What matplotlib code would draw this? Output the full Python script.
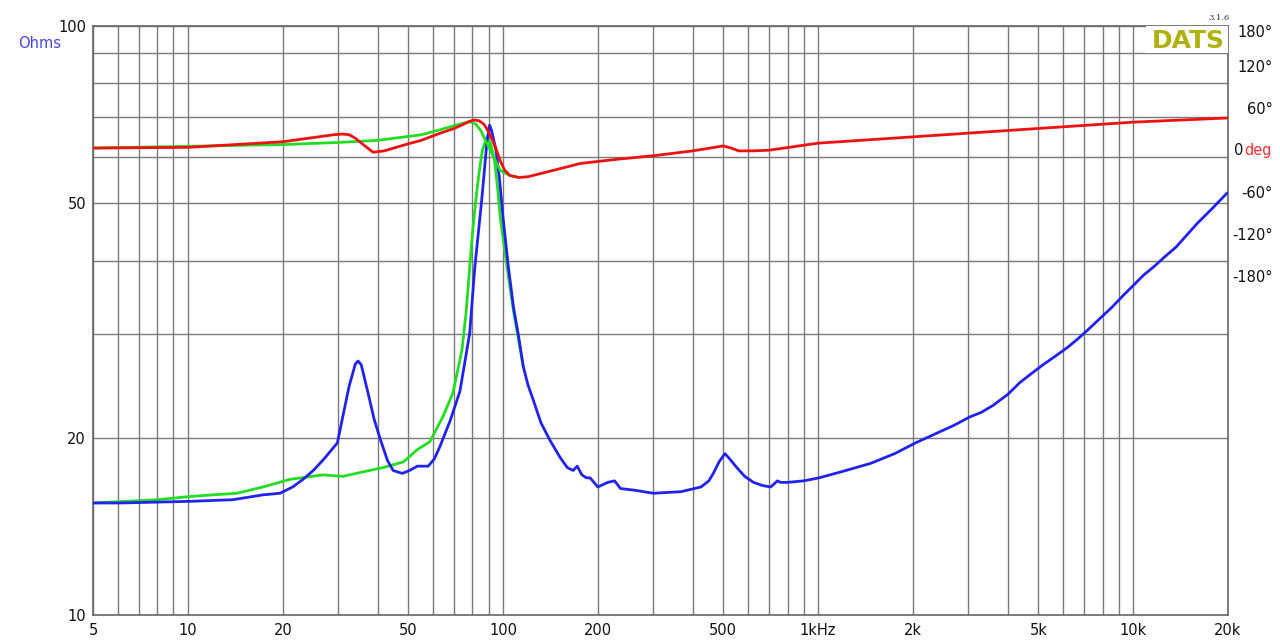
import numpy as np
import matplotlib
matplotlib.use("Agg")
from matplotlib import pyplot as plt
from matplotlib.ticker import FixedLocator, NullFormatter, LogLocator
import matplotlib.transforms as mtransforms

# impedance, blue trace (Hz, ohms)
blue_f = [5, 6.1, 10.2, 13.9, 17.3, 19.6, 21.5, 23.2, 25, 27, 29.8, 31, 32.5, 34, 34.7,
          35.5, 36.5, 37.6, 39, 40.9, 43, 44.8, 47.9, 50.5, 53.5, 57.9, 60.5, 63, 68, 73,
          78.4, 81.4, 85.6, 89, 90.7, 92, 93.5, 95, 97.5, 100, 104, 108, 112, 116, 120,
          124.7, 132, 141, 152, 160, 167, 172, 178, 184, 189, 200, 215, 226, 236, 260,
          300, 367, 425, 450, 465, 485, 506, 525, 552, 585, 624, 665, 707, 743, 760, 800,
          900, 1007, 1180, 1470, 1750, 2036, 2350, 2700, 3030, 3300, 3590, 4000, 4360,
          4750, 5170, 5650, 6200, 6700, 7180, 7800, 8550, 9300, 10170, 10800, 11600,
          12600, 13700, 14800, 16000, 17800, 19800]
blue_z = [15.5, 15.5, 15.6, 15.7, 16.0, 16.1, 16.5, 17.0, 17.6, 18.4, 19.6, 21.7, 24.5,
          26.7, 27.0, 26.6, 25.0, 23.4, 21.5, 19.8, 18.3, 17.6, 17.4, 17.6, 17.9, 17.9,
          18.4, 19.3, 21.4, 24.0, 30.1, 39.0, 50.7, 64.0, 67.9, 66.5, 64.0, 61.6, 55.0,
          47.4, 39.0, 33.3, 29.8, 26.4, 24.6, 23.2, 21.2, 19.8, 18.5, 17.8, 17.6, 17.9,
          17.3, 17.1, 17.1, 16.5, 16.8, 16.9, 16.4, 16.3, 16.1, 16.2, 16.5, 16.9, 17.4,
          18.2, 18.8, 18.4, 17.8, 17.2, 16.8, 16.6, 16.5, 16.9, 16.8, 16.8, 16.9, 17.1,
          17.5, 18.1, 18.8, 19.6, 20.3, 21.0, 21.7, 22.1, 22.7, 23.7, 24.8, 25.7, 26.6,
          27.5, 28.5, 29.5, 30.5, 31.8, 33.3, 34.9, 36.6, 37.8, 39.0, 40.6, 42.2, 44.2,
          46.3, 49.0, 52.0]

# impedance, green trace
green_f = [5, 8.0, 10.2, 12.0, 14.3, 17.3, 21.1, 26.8, 31, 35.9, 41.6, 48.3, 53.5, 58.6,
           64.4, 69.3, 74.1, 76.5, 78.4, 80, 82, 84, 86, 89, 91.5, 94, 96, 98, 103, 108,
           116]
green_z = [15.5, 15.7, 15.9, 16.0, 16.1, 16.5, 17.0, 17.3, 17.2, 17.5, 17.8, 18.2, 19.1,
           19.7, 21.7, 23.8, 28.2, 33.0, 39.0, 44.5, 50.7, 56.5, 61.6, 64.8, 63.0, 59.2,
           53.5, 47.4, 39.0, 32.8, 26.4]

# phase, red trace (deg)
red_f = [5, 10, 20, 25, 29, 31, 32.5, 34, 36, 38.7, 42, 45, 50, 55, 63, 70, 75, 78, 81,
         84, 87, 89, 92, 95, 98, 101, 105, 112, 120, 130, 150, 176, 230, 300, 400, 500,
         530, 560, 620, 700, 1000, 2000, 5000, 10000, 20000]
red_p = [3, 4, 12, 18, 22, 23, 22, 17, 8, -3, -1, 3, 9, 14, 24, 31, 37, 41, 43, 42, 37,
         30, 17, 2, -15, -28, -36, -39, -38, -34, -27, -19, -13, -8, -1, 6, 3, -1, -1, 0,
         10, 19, 31, 40, 46]

# phase, green trace
greenp_f = [5, 20, 30, 40, 55, 63, 70, 74, 77, 79.5, 82, 85, 88, 93, 98, 105, 112]
greenp_p = [3, 8, 11, 14, 22, 29, 35, 38, 40, 40, 37, 28, 14, -8, -29, -36, -39]

xticks = [5, 10, 20, 50, 100, 200, 500, 1000, 2000, 5000, 10000, 20000]
xlabels = ["5", "10", "20", "50", "100", "200", "500", "1kHz", "2k", "5k", "10k", "20k"]
yticks = [10, 20, 50, 100]
phase_ticks = [170, 120, 60, 0, -60, -120, -180]
phase_labels = ["180°", "120°", "60°", "", "-60°", "-120°", "-180°"]

fig = plt.figure(figsize=(12.8, 6.4), dpi=100)
ax = fig.add_axes([0.0727, 0.039, 0.8867, 0.920])
ax.set_xscale("log")
ax.set_yscale("log")
ax.set_xlim(5, 20000)
ax.set_ylim(10, 100)

grid_col = "#7a7a7a"
ax.xaxis.set_minor_locator(LogLocator(base=10, subs=np.arange(2, 10)))
ax.yaxis.set_minor_locator(FixedLocator([20, 30, 40, 60, 70, 80, 90]))
ax.grid(True, which="both", color=grid_col, linewidth=1.0)
ax.set_xticks(xticks)
ax.set_xticklabels(xlabels)
ax.set_yticks(yticks)
ax.set_yticklabels([str(v) for v in yticks])
ax.xaxis.set_minor_formatter(NullFormatter())
ax.yaxis.set_minor_formatter(NullFormatter())
ax.tick_params(which="both", length=0, labelsize=10.5, colors="#111111")
ax.tick_params(axis="x", pad=6)
ax.tick_params(axis="y", pad=5)
for s in ax.spines.values():
    s.set_color("#666666")
    s.set_linewidth(1.2)

ax2 = ax.twinx()
ax2.set_ylim(-664, 177)
ax2.set_yticks(phase_ticks)
ax2.set_yticklabels(phase_labels)
ax2.tick_params(length=0, labelsize=10.5, pad=32, colors="#111111")
for lab in ax2.get_yticklabels():
    lab.set_horizontalalignment("right")
ax2.spines[:].set_visible(False)

ax.plot(green_f, green_z, color="#22dd22", lw=2, zorder=3)
ax2.plot(greenp_f, greenp_p, color="#22dd22", lw=2, zorder=3)
ax.plot(blue_f, blue_z, color="#2222ee", lw=2, zorder=4)
ax2.plot(red_f, red_p, color="#ee1111", lw=2, zorder=5)

# "0 deg" label
tr = mtransforms.blended_transform_factory(ax2.transAxes, ax2.transData)
ax2.text(1.0132, 0, "0", transform=tr, ha="right", va="center", fontsize=10.5, color="#111111")
ax2.text(1.0385, 0, "deg", transform=tr, ha="right", va="center", fontsize=10.5, color="#ee3333")

fig.text(0.014, 0.932, "Ohms", color="#4444ee", fontsize=10.5, ha="left", va="center")

# DATS logo
ax.add_patch(plt.Rectangle((0.928, 0.955), 0.072, 0.045, transform=ax.transAxes,
                           facecolor="white", edgecolor="none", zorder=6))
ax.text(0.997, 0.9745, "DATS", transform=ax.transAxes, ha="right", va="center",
        fontsize=18, fontweight="bold", color="#b0b010", zorder=7)
fig.text(0.961, 0.966, "3.1.6", fontsize=6, family="serif", ha="right", va="bottom",
         color="#333333")

fig.savefig("out.png", dpi=100, facecolor="white")
